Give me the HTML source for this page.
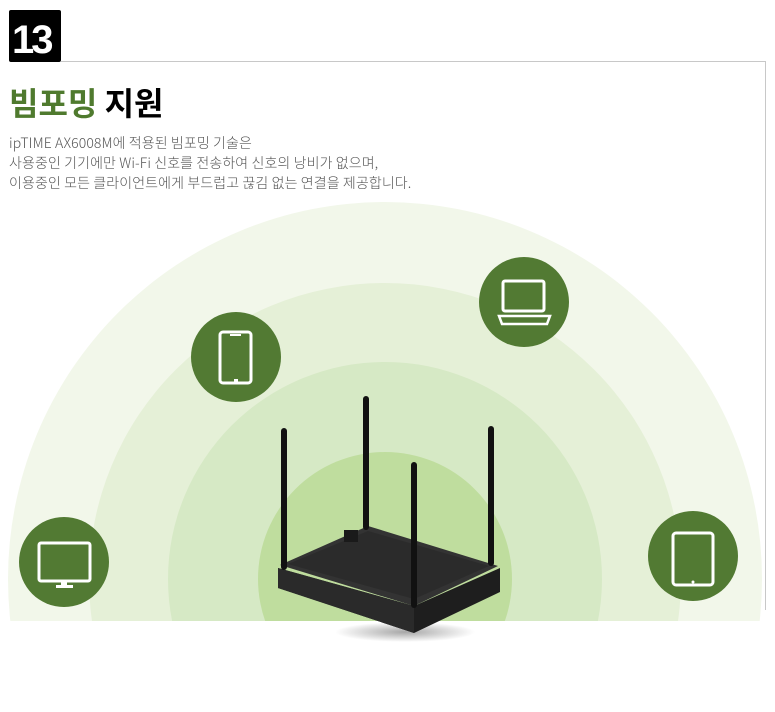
<!DOCTYPE html>
<html><head><meta charset="utf-8"><style>
html,body{margin:0;width:775px;height:712px;overflow:hidden}
body{background:#fff;position:relative;font-family:"Liberation Sans","Noto Sans CJK KR",sans-serif}
.badge{position:absolute;left:9px;top:10px;width:52px;height:52px;background:#000;border-radius:2px;color:#fff;font-size:40px;font-weight:bold;letter-spacing:-3px;line-height:52px;text-indent:3px;padding-top:4px;box-sizing:border-box}
h1{position:absolute;left:9px;top:79px;margin:0;font-size:32px;font-weight:bold;font-family:"Noto Sans CJK KR",sans-serif;letter-spacing:0}
.t{position:absolute;left:9px;top:133px;font-size:14px;line-height:20px;color:#555;font-family:"Noto Sans CJK KR",sans-serif;font-weight:300;letter-spacing:0.1px;white-space:nowrap}
</style></head><body>
<svg width="775" height="712" style="position:absolute;left:0;top:0">
<defs><clipPath id="c"><rect x="8" y="0" width="762" height="621"/></clipPath>
<radialGradient id="sh" cx="0.5" cy="0.5" r="0.5"><stop offset="0" stop-color="#000" stop-opacity=".35"/><stop offset="1" stop-color="#000" stop-opacity="0"/></radialGradient></defs>
<line x1="61" y1="61.5" x2="765" y2="61.5" stroke="#c8c8c8"/>
<line x1="765.5" y1="61" x2="765.5" y2="610" stroke="#c8c8c8"/>
<g clip-path="url(#c)">
<circle cx="385" cy="579" r="377" fill="#f2f7ea"/>
<circle cx="385" cy="579" r="296" fill="#e5f0d7"/>
<circle cx="385" cy="579" r="217" fill="#d6e9c5"/>
<circle cx="385" cy="579" r="127" fill="#bfdd9e"/>
</g>
<g fill="#527a33">
<ellipse cx="236" cy="357" rx="45" ry="45"/>
<ellipse cx="524" cy="302" rx="45" ry="45"/>
<ellipse cx="64" cy="562" rx="45" ry="45"/>
<ellipse cx="693" cy="556" rx="45" ry="45"/>
</g>
<g fill="none" stroke="#fff" stroke-width="3">
<rect x="220" y="332" width="31" height="51" rx="3"/>
<rect x="503" y="281" width="41" height="30" rx="2"/>
<path d="M499 316h51l-3 8h-45z" stroke-width="2.5"/>
<rect x="39" y="543" width="51" height="38" rx="2"/>
<rect x="673" y="533" width="40" height="52" rx="3"/>
</g>
<g fill="#fff"><rect x="230" y="334" width="11" height="2"/><rect x="234" y="379" width="4" height="3"/>
<rect x="61" y="581" width="6" height="4"/><rect x="56" y="585" width="17" height="3"/><circle cx="693" cy="582" r="1.5"/></g>
<ellipse cx="405" cy="632" rx="70" ry="10" fill="url(#sh)"/>
<polygon points="278,568 278,588 414,633 500,592 500,568 414,606" fill="#1e1e1e"/>
<polygon points="278,568 414,606 414,633 278,588" fill="#2a2a2a"/>
<polygon points="280,565 368,526 498,566 414,606" fill="#333"/>
<polygon points="288,564 368,531 489,566 414,599" fill="#2b2b2b"/>
<g fill="#111"><rect x="281" y="428" width="6" height="142" rx="3"/><rect x="363" y="396" width="6" height="134" rx="3"/><rect x="488" y="426" width="6" height="140" rx="3"/><rect x="411" y="462" width="6" height="146" rx="3"/></g>
<rect x="344" y="530" width="14" height="12" fill="#1a1a1a"/>
</svg>
<div class="badge">13</div>
<h1><span style="color:#4f7a2e">빔포밍</span> 지원</h1>
<div class="t">ipTIME AX6008M에 적용된 빔포밍 기술은<br>사용중인 기기에만 Wi-Fi 신호를 전송하여 신호의 낭비가 없으며,<br>이용중인 모든 클라이언트에게 부드럽고 끊김 없는 연결을 제공합니다.</div>
</body></html>
